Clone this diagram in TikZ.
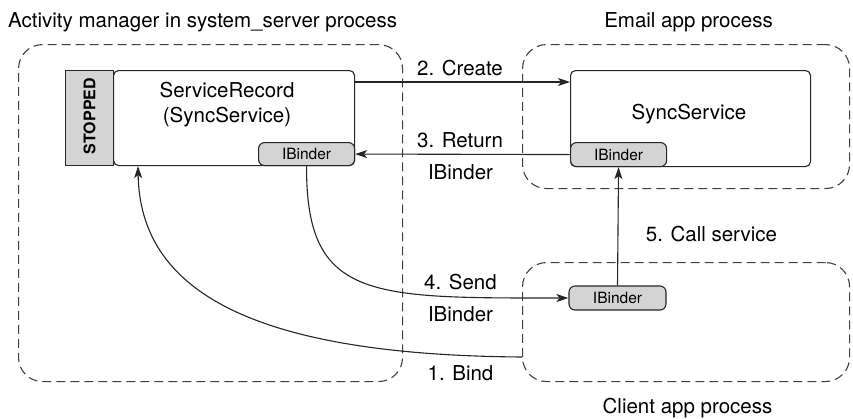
\documentclass[tikz,border=0pt]{standalone}
\usepackage{fontspec}
\setmainfont{TeX Gyre Heros}
\usetikzlibrary{arrows.meta,positioning,calc}

\newcommand{\bigtxt}{\fontsize{20.5}{25}\selectfont}
\newcommand{\smalltxt}{\fontsize{15.5}{18}\selectfont}

\begin{document}
\begin{tikzpicture}[x=1pt, y=-1pt,
  proc/.style={draw=black!75, dash pattern=on 9pt off 5pt, line width=1.1pt,
    rounded corners=24pt, anchor=north west, inner sep=0pt},
  box/.style={draw=black!85, fill=white, line width=1.1pt, rounded corners=5pt,
    anchor=north west, inner sep=0pt},
  stopbox/.style={draw=black!85, fill=black!17, line width=1.1pt,
    anchor=north west, inner sep=0pt},
  binder/.style={draw=black!85, fill=black!17, line width=1.1pt, rounded corners=6pt,
    minimum width=96pt, minimum height=24pt, inner sep=0pt, font=\smalltxt},
  lbl/.style={font=\bigtxt, inner sep=0pt, anchor=base},
  arr/.style={-{Stealth[length=12pt,width=8pt,inset=3pt]}, line width=1.1pt, draw=black!85},
  ln/.style={line width=1.1pt, draw=black!85}
]
\useasboundingbox (0,0) rectangle (853,418);

% process areas
\node[proc, minimum width=384pt, minimum height=337pt] (amproc) at (18,44) {};
\node[proc, minimum width=327pt, minimum height=144pt] (emailproc) at (522,44) {};
\node[proc, minimum width=327pt, minimum height=119pt] (clientproc) at (522,262) {};

\node[lbl, anchor=base west] (amtitle) at (8,27) {Activity manager in system\_server process};
\node[lbl] (emailtitle) at (688.5,27) {Email app process};
\node[lbl] (clienttitle) at (687.5,413) {Client app process};

% activity manager side
\node[stopbox, minimum width=48pt, minimum height=95pt] (stopped) at (65,70) {};
\node[rotate=90, font=\fontsize{16}{18}\selectfont\bfseries, inner sep=0pt] (stoptxt) at ([yshift=2pt]stopped.center) {STOPPED};
\node[box, minimum width=241pt, minimum height=95pt] (record) at (113,70) {};
\node[lbl] (recname) at (227,97) {ServiceRecord};
\node[lbl] (recsub) at (227,122) {(SyncService)};
\node[binder, anchor=south east, minimum height=23pt] (binderA) at (record.south east) {IBinder};

% email side
\node[box, minimum width=240pt, minimum height=96pt] (sync) at (570,70) {};
\node[lbl] (syncname) at (689,119) {SyncService};
\node[binder, anchor=south west] (binderE) at (sync.south west) {IBinder};

% client side
\node[binder, minimum width=97pt] (binderC) at (617.5,298) {IBinder};
\coordinate (bindstart) at (522,357);

% connectors
\draw[arr] ([yshift=-12pt]record.north east) -- ([yshift=-12pt]sync.north west);
\draw[arr] (binderE.west) -- (binderA.east);
\draw[arr] (binderA.south) .. controls (306,300) and (370,298) .. (binderC.west);
\draw[arr] (bindstart) .. controls (250,355) and (140,290) .. ([xshift=25pt]record.south west);
\draw[arr] (binderC.north) -- (binderE.south);

% connector labels
\node[lbl] (lcreate) at (460,75) {2. Create};
\node[lbl] (lreturn) at (460,147) {3. Return};
\node[lbl] (lreturnb) at (460.5,179) {IBinder};
\node[lbl] (lsend) at (460.5,289) {4. Send};
\node[lbl] (lsendb) at (460.5,321.5) {IBinder};
\node[lbl] (lbind) at (460.5,380) {1. Bind};
\node[lbl] (lcall) at (711.5,241) {5. Call service};

\end{tikzpicture}
\end{document}
